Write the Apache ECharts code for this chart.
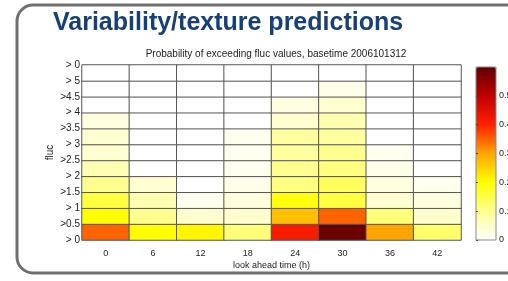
<!DOCTYPE html>
<html>
<head>
<meta charset="utf-8">
<script src="https://cdn.jsdelivr.net/npm/echarts@6/dist/echarts.min.js"></script>
<style>
html, body { margin: 0; padding: 0; background: #fff; }
#main { width: 508px; height: 281px; }
</style>
</head>
<body>
<div id="main"></div>
<script>
var xLabels = ['0', '6', '12', '18', '24', '30', '36', '42'];
// row boundary labels, bottom to top
var yLabels = ['> 0', '>0.5', '> 1', '>1.5', '> 2', '>2.5', '> 3', '>3.5', '> 4', '>4.5', '> 5', '> 0'];

// probability per row (bottom row first) for each lead time
var col0  = [0.35, 0.20, 0.155, 0.10, 0.07, 0.042, 0.042, 0.028, 0, 0, 0];
var col6  = [0.20, 0.10, 0.07, 0.042, 0, 0, 0, 0, 0, 0, 0];
var col12 = [0.21, 0.042, 0.014, 0, 0, 0, 0, 0, 0, 0, 0];
var col18 = [0.115, 0.042, 0.028, 0.02, 0.014, 0.014, 0.014, 0, 0, 0, 0];
var col24 = [0.41, 0.27, 0.19, 0.11, 0.10, 0.086, 0.086, 0.042, 0.028, 0, 0];
var col30 = [0.59, 0.35, 0.155, 0.134, 0.11, 0.10, 0.086, 0.07, 0.042, 0.02, 0];
var col36 = [0.30, 0.115, 0.042, 0.028, 0.02, 0.014, 0, 0, 0, 0, 0];
var col42 = [0.125, 0.042, 0.028, 0.014, 0, 0, 0, 0, 0, 0, 0];

var cols = [col0, col6, col12, col18, col24, col30, col36, col42];
var rows = [];
for (var r = 0; r < col0.length; r++) rows.push(String(r));

var data = [];
cols.forEach(function (c, i) {
    c.forEach(function (v, j) {
        data.push([i, j, v]);
    });
});

var myChart = echarts.init(document.getElementById('main'));
var font = 'Liberation Sans, Arial, sans-serif';

myChart.setOption({
    backgroundColor: '#fff',
    animation: false,
    title: [{
        text: 'Variability/texture predictions',
        left: 48,
        top: 6,
        textStyle: { fontSize: 25, fontWeight: 'bold', color: '#173f78', fontFamily: font }
    }, {
        text: 'Probability of exceeding fluc values, basetime 2006101312',
        left: 271,
        textAlign: 'center',
        top: 44,
        textStyle: { fontSize: 10, fontWeight: 'normal', color: '#222', fontFamily: font }
    }],
    graphic: [{
        type: 'rect',
        shape: { x: 17, y: 5, width: 530, height: 268, r: 16 },
        style: { fill: 'none', stroke: '#707070', lineWidth: 3 },
        z: 100
    }],
    grid: [{
        left: 82, right: 47, top: 65, bottom: 41,
        outerBoundsMode: 'none'
    }, {
        left: 476, width: 20, top: 67, height: 173,
        outerBoundsMode: 'none',
        show: true, borderColor: '#888', borderWidth: 1,
        backgroundColor: 'transparent', z: 10
    }],
    xAxis: [{
        type: 'category',
        data: xLabels,
        name: 'look ahead time (h)',
        nameLocation: 'middle',
        nameGap: 21,
        nameMoveOverlap: false,
        nameTextStyle: { fontSize: 9, color: '#222', fontFamily: font },
        axisLine: { show: false },
        axisTick: { show: false },
        axisLabel: { fontSize: 9, color: '#222', margin: 9, fontFamily: font }
    }, {
        type: 'value', gridIndex: 1, show: false
    }],
    yAxis: [{
        type: 'category',
        data: rows,
        axisLine: { show: false },
        axisTick: { show: false },
        axisLabel: { show: false }
    }, {
        type: 'value',
        min: 0, max: 11, interval: 1,
        position: 'left',
        name: 'fluc',
        nameLocation: 'middle',
        nameGap: 27,
        nameMoveOverlap: false,
        nameTextStyle: { fontSize: 10, color: '#222', fontFamily: font },
        splitLine: { show: false },
        axisLine: { show: false },
        axisTick: { show: false },
        axisLabel: {
            fontSize: 10, color: '#222', margin: 2, fontFamily: font,
            formatter: function (v) { return yLabels[v]; }
        }
    }, {
        type: 'value',
        gridIndex: 1,
        min: 0, max: 0.6, interval: 0.1,
        position: 'right',
        z: 20,
        splitLine: { show: false },
        axisLine: { show: false },
        axisTick: { show: true, inside: false, length: 2, lineStyle: { color: '#444' } },
        axisLabel: {
            fontSize: 9, color: '#222', margin: 3, align: 'left', fontFamily: font, showMaxLabel: false,
            formatter: function (v) { return String(Math.round(v * 10) / 10); }
        }
    }],
    visualMap: {
        type: 'continuous',
        min: 0,
        max: 0.6,
        left: 476,
        top: 67,
        itemWidth: 20,
        itemHeight: 173,
        padding: 0,
        calculable: false,
        showLabel: false,
        text: null,
        seriesIndex: 0,
        inRange: {
            color: ['#ffffff', '#ffff90', '#ffff00', '#ffa500', '#ff2000', '#c00000', '#600000']
        }
    },
    series: [{
        type: 'heatmap',
        data: data,
        itemStyle: { borderColor: '#555', borderWidth: 1 },
        emphasis: { disabled: true }
    }]
});
</script>
</body>
</html>
